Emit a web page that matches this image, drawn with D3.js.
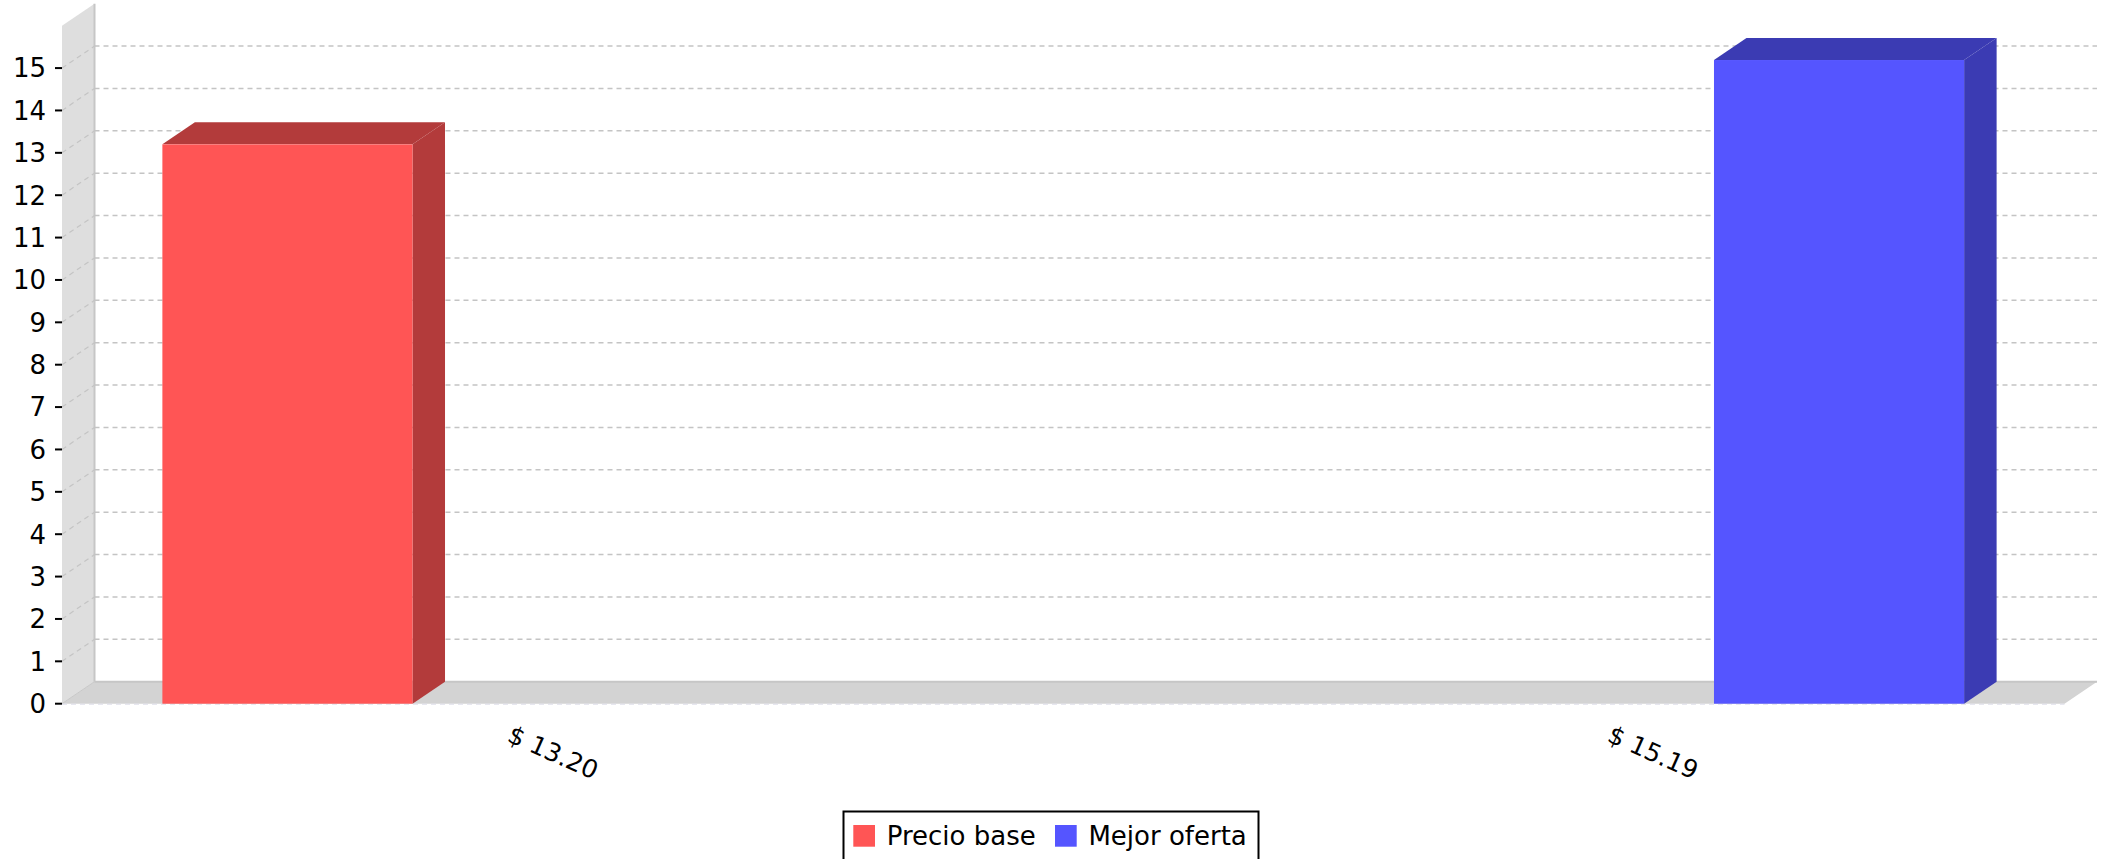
<!DOCTYPE html>
<html>
<head>
<meta charset="utf-8">
<script src="https://cdn.jsdelivr.net/npm/d3@7"></script>
<style>
  html, body { margin: 0; padding: 0; background: #fff; }
  svg { display: block; }
  text { font-family: "DejaVu Sans", sans-serif; fill: #000; }
</style>
</head>
<body>
<svg id="chart" width="2105" height="859"></svg>
<script>
// ---- data ----
const categories = ["$ 13.20", "$ 15.19"];
const seriesNames = ["Precio base", "Mejor oferta"];
const precioBase = [13.20, null];
const mejorOferta = [null, 15.19];
const yTicks = [0, 1, 2, 3, 4, 5, 6, 7, 8, 9, 10, 11, 12, 13, 14, 15];
const yMax = 16;

// ---- styling / layout ----
const frontColors = ["#ff5555", "#5555ff"];
const sideColors = ["#b33b3b", "#3b3bb3"];
const W = 2105, H = 859;
const DX = 32.5, DY = -22;
const plotLeft = 62, plotRight = 2064.5, plotBottom = 703.7, plotTop = 25.7;

const svg = d3.select("#chart");
svg.append("rect").attr("width", W).attr("height", H).attr("fill", "#fff");

const y = d3.scaleLinear().domain([0, yMax]).range([plotBottom, plotTop]);
const x0 = d3.scaleBand().domain(categories).range([plotLeft, plotRight]).padding(0);
const x1 = d3.scaleBand().domain(seriesNames).range([0, x0.bandwidth()])
  .paddingInner(0.5455).paddingOuter(0.1824);
const labelX = d3.scalePoint().domain(categories).range([506, 1606]);

// wall (left side)
svg.append("path")
  .attr("d", `M${plotLeft},${y(0)} L${plotLeft},${y(yMax)} L${plotLeft + DX},${y(yMax) + DY} L${plotLeft + DX},${y(0) + DY} Z`)
  .attr("fill", "#dedede");
// floor
svg.append("path")
  .attr("d", `M${plotLeft},${y(0)} L${plotRight},${y(0)} L${plotRight + DX},${y(0) + DY} L${plotLeft + DX},${y(0) + DY} Z`)
  .attr("fill", "#d3d3d3");
// wall/floor edges
svg.append("line")
  .attr("x1", plotLeft + DX).attr("x2", plotLeft + DX)
  .attr("y1", y(yMax) + DY).attr("y2", y(0) + DY)
  .attr("stroke", "#c6c6c6").attr("stroke-width", 2);
svg.append("line")
  .attr("x1", plotLeft + DX).attr("x2", plotRight + DX)
  .attr("y1", y(0) + DY).attr("y2", y(0) + DY)
  .attr("stroke", "#c6c6c6").attr("stroke-width", 2);
svg.append("line")
  .attr("x1", plotLeft).attr("x2", plotLeft + DX)
  .attr("y1", y(0)).attr("y2", y(0) + DY)
  .attr("stroke", "#c8c8c8").attr("stroke-width", 1);
// front dashed base line
svg.append("line")
  .attr("x1", plotLeft).attr("x2", plotRight)
  .attr("y1", y(0) + 0.5).attr("y2", y(0) + 0.5)
  .attr("stroke", "#dcdce8").attr("stroke-width", 1)
  .attr("stroke-dasharray", "5,4");

// gridlines (back plane + wall diagonals)
const grid = svg.append("g");
yTicks.filter(t => t > 0).forEach(t => {
  grid.append("line")
    .attr("x1", plotLeft + DX).attr("x2", plotRight + DX)
    .attr("y1", y(t) + DY).attr("y2", y(t) + DY)
    .attr("stroke", "#c4c4c4").attr("stroke-width", 1.5)
    .attr("stroke-dasharray", "5,4");
  grid.append("line")
    .attr("x1", plotLeft).attr("x2", plotLeft + DX)
    .attr("y1", y(t)).attr("y2", y(t) + DY)
    .attr("stroke", "#c4c4c4").attr("stroke-width", 1.2)
    .attr("stroke-dasharray", "5,4");
});

// y axis ticks and labels
const yAxis = svg.append("g");
yTicks.forEach(t => {
  yAxis.append("line")
    .attr("x1", plotLeft - 7).attr("x2", plotLeft)
    .attr("y1", y(t)).attr("y2", y(t))
    .attr("stroke", "#000").attr("stroke-width", 2);
  yAxis.append("text")
    .attr("x", plotLeft - 16).attr("y", y(t))
    .attr("dy", "0.36em")
    .attr("text-anchor", "end")
    .attr("font-size", 26)
    .text(t);
});

// bars
const seriesValues = [precioBase, mejorOferta];
const bars = [];
seriesValues.forEach((vals, si) => {
  vals.forEach((v, ci) => {
    if (v == null) return;
    bars.push({ s: si, c: categories[ci], v });
  });
});
const gBars = svg.append("g");
bars.forEach(b => {
  const bx = x0(b.c) + x1(seriesNames[b.s]);
  const bw = x1.bandwidth();
  const yt = y(b.v), yb = y(0);
  gBars.append("path")
    .attr("d", `M${bx + bw},${yb} L${bx + bw},${yt} L${bx + bw + DX},${yt + DY} L${bx + bw + DX},${yb + DY} Z`)
    .attr("fill", sideColors[b.s]);
  gBars.append("path")
    .attr("d", `M${bx},${yt} L${bx + DX},${yt + DY} L${bx + bw + DX},${yt + DY} L${bx + bw},${yt} Z`)
    .attr("fill", sideColors[b.s]);
  gBars.append("rect")
    .attr("x", bx).attr("y", yt)
    .attr("width", bw).attr("height", yb - yt)
    .attr("fill", frontColors[b.s]);
});

// x labels
categories.forEach(c => {
  svg.append("text")
    .attr("transform", `translate(${labelX(c)},741) rotate(24)`)
    .attr("font-size", 25)
    .text(c);
});

// legend
const lg = svg.append("g");
lg.append("rect")
  .attr("x", 843.5).attr("y", 811.5).attr("width", 415).attr("height", 52)
  .attr("fill", "#fff").attr("stroke", "#000").attr("stroke-width", 2);
const legendX = [853.3, 1055];
seriesNames.forEach((s, i) => {
  lg.append("rect")
    .attr("x", legendX[i]).attr("y", 825)
    .attr("width", 21.7).attr("height", 21.7)
    .attr("fill", frontColors[i]);
  lg.append("text")
    .attr("x", legendX[i] + 33.4).attr("y", 845)
    .attr("font-size", 26)
    .text(s);
});
</script>
</body>
</html>
